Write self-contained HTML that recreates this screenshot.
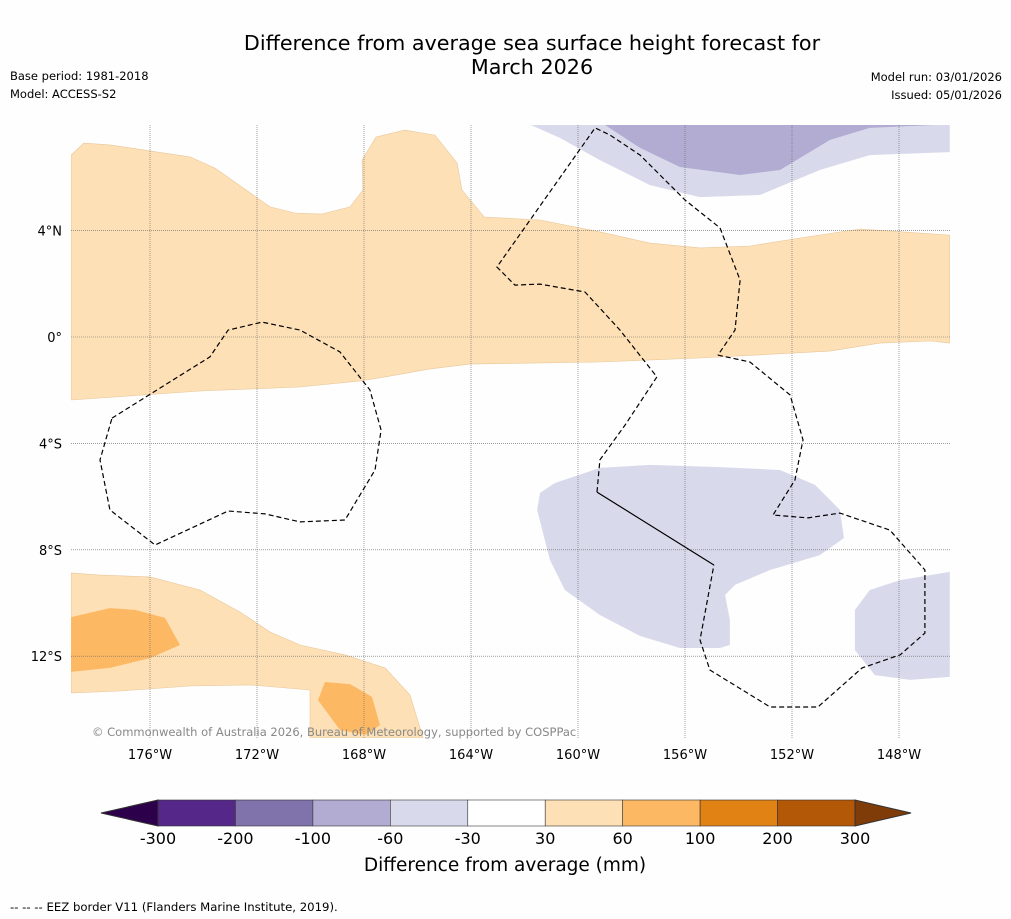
<!DOCTYPE html>
<html><head><meta charset="utf-8">
<style>
body{margin:0;background:#fff;width:1011px;height:919px;overflow:hidden;font-family:"DejaVu Sans",sans-serif;}
svg{position:absolute;left:0;top:0;font-family:"DejaVu Sans",sans-serif;}
</style></head>
<body>
<svg id="chart" width="1011" height="919" viewBox="0 0 1011 919" xmlns="http://www.w3.org/2000/svg">
<rect width="1011" height="919" fill="#fefefe"/>
<text x="532" y="50" font-size="20.7" text-anchor="middle" fill="#000">Difference from average sea surface height forecast for</text>
<text x="532" y="74" font-size="20.7" text-anchor="middle" fill="#000">March 2026</text>
<text x="10" y="80" font-size="11.5">Base period: 1981-2018</text>
<text x="10" y="98" font-size="11.5">Model: ACCESS-S2</text>
<text x="1002" y="81" font-size="11.5" text-anchor="end">Model run: 03/01/2026</text>
<text x="1002" y="99" font-size="11.5" text-anchor="end">Issued: 05/01/2026</text>
<g id="map"></g>
<g id="cbar"></g>
<text x="505" y="871" font-size="18.5" text-anchor="middle">Difference from average (mm)</text>
<text x="10" y="911" font-size="11.7">--  --  -- EEZ border V11 (Flanders Marine Institute, 2019).</text>
</svg>
<script>
const NS="http://www.w3.org/2000/svg";
const lonTicks=[-176,-172,-168,-164,-160,-156,-152,-148];
const latTicks=[4,0,-4,-8,-12];
const levels=[-300,-200,-100,-60,-30,30,60,100,200,300];
const levelColors=["#542788","#8073ac","#b2abd2","#d8daeb","#ffffff","#fee0b6","#fdb863","#e08214","#b35806"];
const lightOrange=[[-178.95,6.84],[-178.47,7.29],[-177.5,7.22],[-174.5,6.77],[-173.57,6.35],[-171.51,4.89],[-170.58,4.66],[-169.57,4.62],[-168.52,4.89],[-168.04,5.53],[-168.07,6.65],[-167.55,7.52],[-166.47,7.78],[-165.35,7.59],[-164.52,6.54],[-164.34,5.53],[-163.51,4.51],[-161.42,4.40],[-159.18,3.95],[-157.31,3.53],[-155.44,3.35],[-153.57,3.42],[-151.7,3.72],[-149.46,4.06],[-146.1,3.83],[-146.1,-0.23],[-146.84,-0.15],[-148.71,-0.23],[-150.58,-0.53],[-155.44,-0.79],[-159.18,-0.94],[-164.04,-1.02],[-165.53,-1.2],[-167.21,-1.5],[-168.15,-1.65],[-170.39,-1.88],[-174.13,-2.03],[-178.95,-2.37]];
const lavenderTop=[[-161.76,7.97],[-160.67,7.48],[-159.18,6.65],[-157.31,5.71],[-155.44,5.26],[-153.2,5.34],[-150.96,6.28],[-149.09,6.84],[-146.1,6.95],[-146.1,7.97]];
const purpleTop=[[-158.99,7.97],[-157.68,7.11],[-156.19,6.39],[-153.94,6.09],[-152.45,6.28],[-150.58,7.41],[-149.09,7.86],[-146.66,7.97]];
const lavenderSE=[[-160.86,-5.49],[-159.18,-4.92],[-157.31,-4.81],[-154.69,-4.89],[-152.45,-5.0],[-151.14,-5.56],[-150.21,-6.5],[-150.06,-7.56],[-150.96,-8.2],[-152.82,-8.76],[-154.13,-9.32],[-154.5,-9.7],[-154.32,-10.64],[-154.32,-11.58],[-154.69,-11.69],[-156.19,-11.69],[-157.68,-11.24],[-159.18,-10.45],[-160.49,-9.51],[-161.05,-8.38],[-161.53,-6.5],[-161.42,-5.86]];
const lavenderE=[[-146.1,-8.83],[-147.96,-9.14],[-149.09,-9.51],[-149.65,-10.26],[-149.65,-11.77],[-148.9,-12.71],[-147.59,-12.89],[-146.1,-12.78]];
const orangeSW=[[-178.95,-8.87],[-177.87,-8.95],[-176,-9.02],[-174.13,-9.51],[-172.64,-10.34],[-171.51,-11.09],[-170.39,-11.58],[-168.71,-11.95],[-167.21,-12.44],[-166.28,-13.46],[-165.79,-15.08],[-170.02,-15.08],[-170.02,-13.27],[-172.26,-13.08],[-174.5,-13.12],[-177.12,-13.31],[-178.95,-13.38]];
const darkOrangeW=[[-178.95,-10.53],[-177.5,-10.19],[-176.56,-10.26],[-175.44,-10.56],[-174.88,-11.58],[-176,-12.07],[-177.5,-12.44],[-178.95,-12.59]];
const darkOrangeS=[[-169.46,-12.97],[-168.52,-13.05],[-167.7,-13.53],[-167.4,-14.59],[-167.96,-14.96],[-168.9,-14.77],[-169.72,-13.65]];
const eezWest=[[-177.42,-3.05],[-173.76,-0.75],[-173.08,0.26],[-171.81,0.56],[-170.39,0.26],[-168.9,-0.56],[-167.78,-1.99],[-167.36,-3.5],[-167.59,-5.0],[-168.71,-6.88],[-170.39,-6.95],[-171.7,-6.65],[-173.08,-6.54],[-175.81,-7.82],[-177.5,-6.5],[-177.87,-4.62],[-177.42,-3.05]];
const eezNorth=[[-159.29,-5.83],[-159.18,-4.62],[-158.24,-3.31],[-157.05,-1.5],[-158.43,0.26],[-159.74,1.69],[-161.42,1.99],[-162.36,1.95],[-163.03,2.63],[-159.36,7.86],[-158.8,7.59],[-157.68,6.84],[-156,5.15],[-154.69,4.1],[-153.94,2.14],[-154.13,0.26],[-154.77,-0.68]];
const eezEast=[[-154.77,-0.68],[-153.57,-0.94],[-152.07,-2.18],[-151.59,-3.87],[-151.89,-5.38],[-152.71,-6.69],[-151.4,-6.8],[-150.21,-6.62],[-148.34,-7.26],[-147.03,-8.76],[-147.03,-11.13],[-147.96,-11.95],[-149.38,-12.44],[-151.03,-13.91],[-152.82,-13.91],[-155.07,-12.52],[-155.44,-11.39],[-154.92,-8.57]];
const eezSolid=[[-154.92,-8.57],[-159.29,-5.83]];

const X0=71,X1=950,Y0=125,Y1=738;
function xs(lon){return 150+(lon+176)*26.75;}
function ys(lat){return 337-lat*26.6;}
const map=document.getElementById('map');
const cp=document.createElementNS(NS,'clipPath');cp.id='clip';
const cr=document.createElementNS(NS,'rect');
cr.setAttribute('x',X0);cr.setAttribute('y',Y0);cr.setAttribute('width',X1-X0);cr.setAttribute('height',Y1-Y0);
cp.appendChild(cr);map.appendChild(cp);
const g=document.createElementNS(NS,'g');g.setAttribute('clip-path','url(#clip)');map.appendChild(g);
function pts(a){return a.map(p=>xs(p[0]).toFixed(1)+','+ys(p[1]).toFixed(1)).join(' ');}
function poly(a,fill,name){
 const p=document.createElementNS(NS,'polygon');
 
 
 p.setAttribute('points',pts(a));p.setAttribute('fill',fill);
 p.setAttribute('stroke',fill==="#fee0b6"?"#e8c79a":"none");p.setAttribute('stroke-width','0.6');
 g.appendChild(p);
}
poly(lightOrange,levelColors[5],'anomaly-region-equatorial');
poly(lavenderTop,levelColors[3],'anomaly-region-north-negative');
poly(purpleTop,levelColors[2],'anomaly-region-north-strong-negative');
poly(lavenderSE,levelColors[3],'anomaly-region-southeast-negative');
poly(lavenderE,levelColors[3],'anomaly-region-east-negative');
poly(orangeSW,levelColors[5],'anomaly-region-southwest');
poly(darkOrangeW,levelColors[6],'anomaly-region-southwest-strong');
poly(darkOrangeS,levelColors[6],'anomaly-region-south-strong');
lonTicks.forEach(l=>{
 const ln=document.createElementNS(NS,'line');
 
 
 ln.setAttribute('x1',xs(l));ln.setAttribute('x2',xs(l));ln.setAttribute('y1',Y0);ln.setAttribute('y2',Y1);
 ln.setAttribute('stroke','#666');ln.setAttribute('stroke-width','0.6');ln.setAttribute('stroke-dasharray','1,1');g.appendChild(ln);
 const t=document.createElementNS(NS,'text');
 
 
 t.setAttribute('x',xs(l));t.setAttribute('y',759);t.setAttribute('font-size','13');t.setAttribute('text-anchor','middle');
 t.textContent=Math.abs(l)+'°W';map.appendChild(t);
});
latTicks.forEach(l=>{
 const ln=document.createElementNS(NS,'line');
 
 
 ln.setAttribute('x1',X0);ln.setAttribute('x2',X1);ln.setAttribute('y1',ys(l));ln.setAttribute('y2',ys(l));
 ln.setAttribute('stroke','#666');ln.setAttribute('stroke-width','0.6');ln.setAttribute('stroke-dasharray','1,1');g.appendChild(ln);
 const t=document.createElementNS(NS,'text');
 
 
 t.setAttribute('x',62);t.setAttribute('y',ys(l)+5);t.setAttribute('font-size','13');t.setAttribute('text-anchor','end');
 t.textContent=l===0?'0°':Math.abs(l)+'°'+(l>0?'N':'S');map.appendChild(t);
});
function line(a,dash,name){
 const p=document.createElementNS(NS,'polyline');
 
 
 p.setAttribute('points',pts(a));p.setAttribute('fill','none');p.setAttribute('stroke','#000');p.setAttribute('stroke-width','1.2');
 if(dash)p.setAttribute('stroke-dasharray','5,3');g.appendChild(p);
}
line(eezWest,true,'eez-border-west');
line(eezNorth,true,'eez-border-central');
line(eezEast,true,'eez-border-east');
line(eezSolid,false,'eez-border-solid');
const cap=document.createElementNS(NS,'text');


cap.setAttribute('x',92);cap.setAttribute('y',736);cap.setAttribute('font-size','11.5');cap.setAttribute('fill','#888');
cap.textContent='© Commonwealth of Australia 2026, Bureau of Meteorology, supported by COSPPac';map.appendChild(cap);
const cb=document.getElementById('cbar');
const CX0=158,CX1=855,CY=800,CH=26,seg=(CX1-CX0)/(levels.length-1);
function cx(i){return CX0+i*seg;}
levelColors.forEach((c,i)=>{
 const r=document.createElementNS(NS,'rect');
 
 
 r.setAttribute('x',cx(i));r.setAttribute('y',CY);r.setAttribute('width',seg);r.setAttribute('height',CH);
 r.setAttribute('fill',c);r.setAttribute('stroke','#333');r.setAttribute('stroke-width','0.6');cb.appendChild(r);
});
const lt=document.createElementNS(NS,'polygon');


lt.setAttribute('points',`${CX0},${CY} ${CX0},${CY+CH} 101,${CY+13}`);lt.setAttribute('fill','#2d004b');lt.setAttribute('stroke','#333');cb.appendChild(lt);
const rt=document.createElementNS(NS,'polygon');


rt.setAttribute('points',`${CX1},${CY} ${CX1},${CY+CH} 911,${CY+13}`);rt.setAttribute('fill','#7f3b08');rt.setAttribute('stroke','#333');cb.appendChild(rt);
levels.forEach((v,i)=>{
 const t=document.createElementNS(NS,'text');
 
 
 t.setAttribute('x',cx(i));t.setAttribute('y',844);t.setAttribute('font-size','16');t.setAttribute('text-anchor','middle');
 t.textContent=v;cb.appendChild(t);
});
</script>
</body></html>
